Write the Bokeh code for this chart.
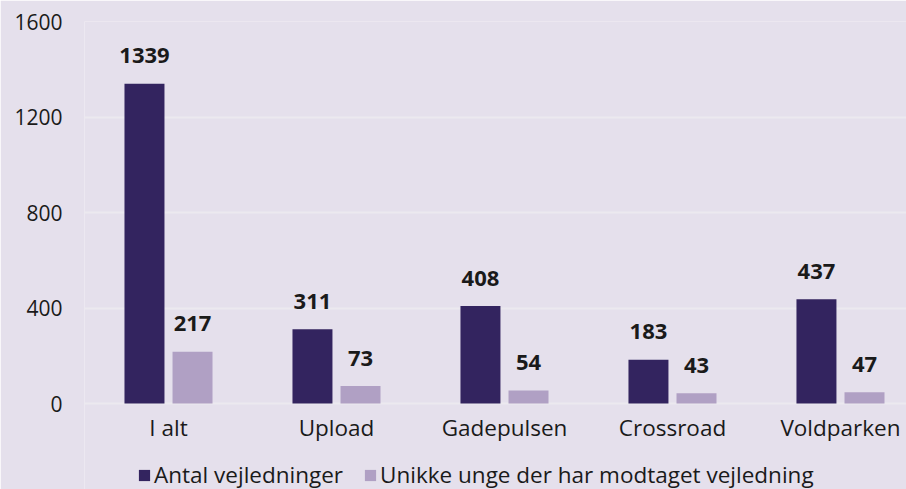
from bokeh.plotting import figure
from bokeh.models import Range1d, FixedTicker, Legend, LegendItem, ColumnDataSource
from bokeh.core.properties import value
from bokeh.embed import file_html
from bokeh.resources import INLINE

categories = ["I alt", "Upload", "Gadepulsen", "Crossroad", "Voldparken"]
antal = [1339, 311, 408, 183, 437]
unikke = [217, 73, 54, 43, 47]
y_ticks = [0, 400, 800, 1200, 1600]
series_names = ["Antal vejledninger", "Unikke unge der har modtaget vejledning"]

BG = "#e5e0ec"
DARK = "#33245f"
LIGHT = "#b0a0c4"
FONT = "Open Sans"
TXT = "#1a1a1a"

centers = [i + 0.5 for i in range(len(categories))]
off = 0.143
bw = 0.238

src = ColumnDataSource(dict(
    xd=[c - off for c in centers], xl=[c + off for c in centers],
    antal=antal, unikke=unikke,
    ta=[str(v) for v in antal], tu=[str(v) for v in unikke],
))

# frame extends below zero so the category labels and legend live inside it
p = figure(frame_width=822, frame_height=468, output_backend="svg", toolbar_location=None,
           x_range=Range1d(0, 4.893), y_range=Range1d(-360.2, 1600),
           min_border_left=84, min_border_right=0, min_border_top=21, min_border_bottom=0)
p.background_fill_color = BG
p.border_fill_color = BG
p.outline_line_color = None

r1 = p.vbar(x="xd", top="antal", bottom=0, width=bw, source=src, color=DARK, line_color=None)
r2 = p.vbar(x="xl", top="unikke", bottom=0, width=bw, source=src, color=LIGHT, line_color=None)

for xcol, ycol, tcol in [("xd", "antal", "ta"), ("xl", "unikke", "tu")]:
    p.text(x=xcol, y=ycol, text=tcol, source=src, text_align="center",
           text_baseline="alphabetic", y_offset=-28, text_font_size="22px",
           text_font_style="bold", text_color=TXT, text_font=value(FONT))

p.xaxis.ticker = FixedTicker(ticks=centers)
p.xaxis.major_label_overrides = {c: n for c, n in zip(centers, categories)}
p.xaxis.fixed_location = 0
p.yaxis.ticker = FixedTicker(ticks=y_ticks)
for ax in (p.xaxis, p.yaxis):
    ax.axis_line_color = None
    ax.major_tick_line_color = None
    ax.minor_tick_line_color = None
    ax.major_tick_out = 0
    ax.major_tick_in = 0
    ax.minor_tick_out = 0
    ax.minor_tick_in = 0
    ax.major_label_text_font = FONT
    ax.major_label_text_color = TXT
p.xaxis.major_label_text_font_size = "22.5px"
p.yaxis.major_label_text_font_size = "21px"
p.xaxis.major_label_standoff = 8
p.yaxis.major_label_standoff = 22

p.xgrid.grid_line_color = None
p.ygrid.grid_line_color = "#ece9ef"
p.ygrid.grid_line_width = 2
p.ygrid.ticker = FixedTicker(ticks=y_ticks)

legend = Legend(items=[LegendItem(label=series_names[0], renderers=[r1]),
                       LegendItem(label=series_names[1], renderers=[r2])],
                orientation="horizontal", location=(53, -1),
                label_text_font=FONT, label_text_font_size="22.5px",
                label_text_color=TXT, glyph_width=14, glyph_height=14,
                label_standoff=3, spacing=20, padding=0, margin=0,
                background_fill_alpha=0, border_line_color=None)
p.add_layout(legend, "center")

html = file_html(p, INLINE)
html = html.replace("<body>", '<body style="background:%s">' % BG, 1)
open("out.html", "w").write(html)
